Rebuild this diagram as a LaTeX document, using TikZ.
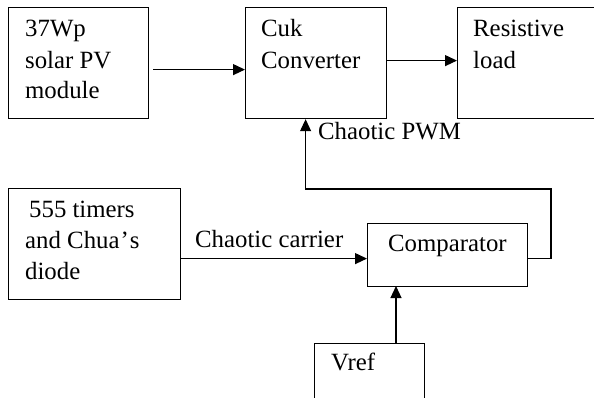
\documentclass[tikz,border=0pt]{standalone}
\usepackage{fontspec}
\setmainfont{Liberation Serif}
\usetikzlibrary{arrows.meta,calc}
\tikzset{
  blk/.style={draw, line width=1.2pt, inner sep=0pt, anchor=north west},
  txt/.style={anchor=base west, inner sep=0pt, font=\fontsize{24.8}{31}\selectfont},
  conn/.style={line width=1.2pt},
  arr/.style={conn, -{Triangle[length=12pt,width=11pt]}}
}
\begin{document}
\begin{tikzpicture}[x=1pt,y=-1pt]
\clip (0,0) rectangle (594,397);
\fill[white] (0,0) rectangle (594,397);
% boxes
\node[blk, minimum width=140pt, minimum height=111pt] (pv)   at (8,7) {};
\node[blk, minimum width=141pt, minimum height=111pt] (cuk)  at (245,7) {};
\node[blk, minimum width=145pt, minimum height=111pt] (load) at (457,7) {};
\node[blk, minimum width=172pt, minimum height=111pt] (gen)  at (8,188) {};
\node[blk, minimum width=160pt, minimum height=63pt]  (comp) at (367,223) {};
\node[blk, minimum width=110pt, minimum height=70pt]  (vref) at (314,343) {};
% texts
\node[txt] (t1) at (25,36) {37Wp};
\node[txt] (t2) at (25,68) {solar PV};
\node[txt] (t3) at (25,98) {module};
\node[txt] (t4) at (261,36) {Cuk};
\node[txt] (t5) at (261,68) {Converter};
\node[txt] (t6) at (473,36) {Resistive};
\node[txt] (t7) at (473,68) {load};
\node[txt] (t8) at (29,217) {555 timers};
\node[txt] (t9) at (25,248) {and Chua\kern1pt’\kern1pt s};
\node[txt] (t10) at (25,279) {diode};
\node[txt] (t11) at (388,251) {Comparator};
\node[txt] (t12) at (331,370) {Vref};
\node[txt] (lc) at (195,247) {Chaotic carrier};
\node[txt] (lp) at (318,139) {Chaotic PWM};
% connector points
\coordinate (a1) at ($(pv.east)+(4,6.5)$);
\coordinate (a2) at (cuk.west |- a1);
\coordinate (b1) at ($(cuk.east)+(0,-2.5)$);
\coordinate (b2) at (load.west |- b1);
\coordinate (c1) at ($(gen.east)+(0,14.5)$);
\coordinate (c2) at (comp.west |- c1);
\coordinate (d1) at (comp.east |- c1);
\coordinate (d2) at (551,189);
\coordinate (d3) at ($(cuk.south)+(-10.5,0)$);
\coordinate (v1) at (396,343);
\coordinate (v2) at (396,286);
% connectors
\draw[arr] (a1) -- (a2);
\draw[arr] (b1) -- (b2);
\draw[arr] (c1) -- (c2);
\draw[arr] (d1) -| (d2) -| (d3);
\draw[arr] (v1) -- (v2);
\end{tikzpicture}
\end{document}
